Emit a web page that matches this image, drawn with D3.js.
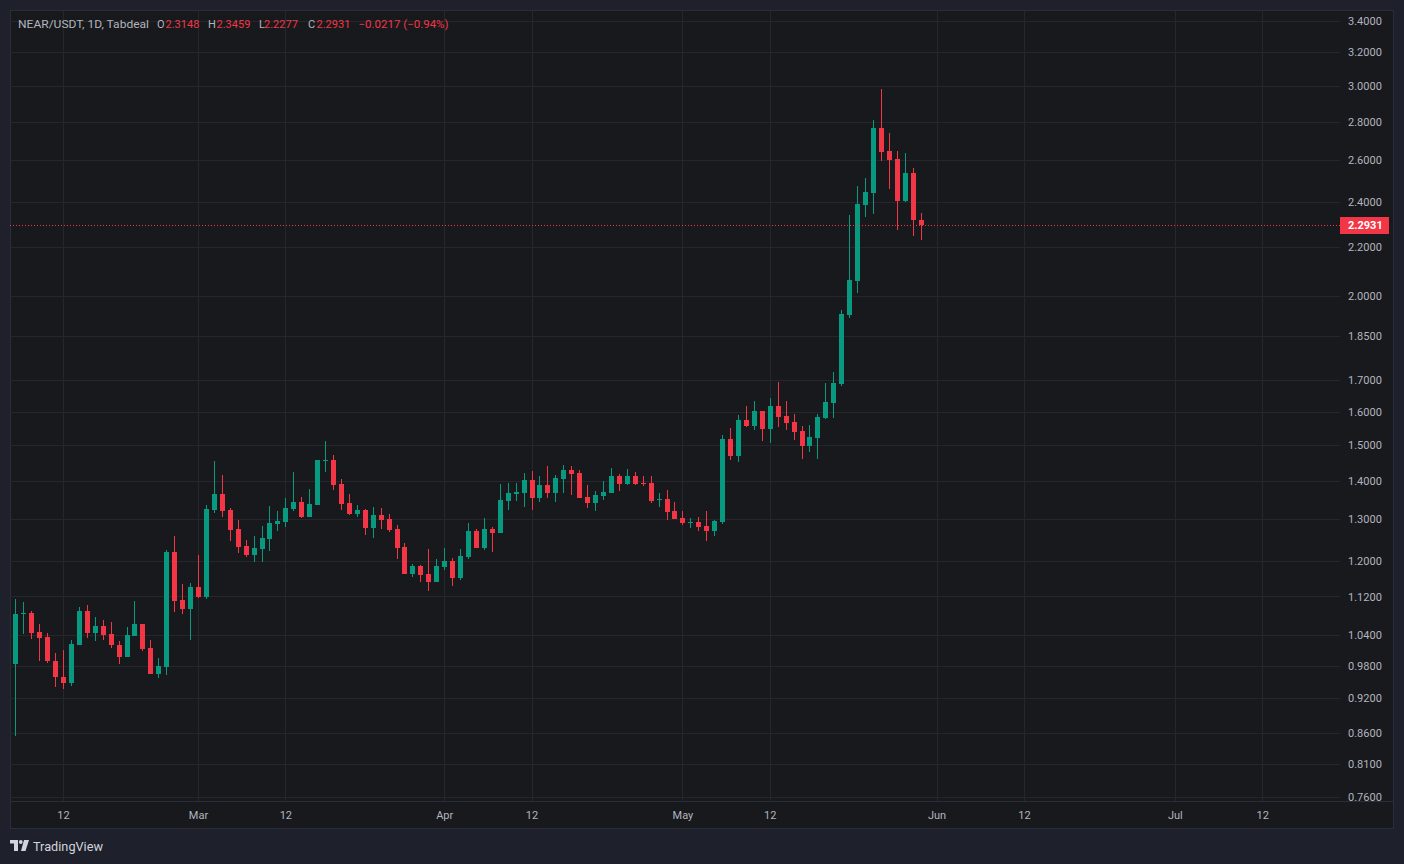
<!DOCTYPE html>
<html>
<head>
<meta charset="utf-8">
<script src="https://cdn.jsdelivr.net/npm/d3@7"></script>
<style>
  html, body { margin: 0; padding: 0; background: #1e212b; }
  svg { display: block; font-family: Roboto, "Noto Sans", sans-serif; }
</style>
</head>
<body>
<div id="chart"></div>
<script>
// Daily candles, NEAR/USDT (index 0 = first visible bar)
const opens = [0.984,1.083,1.085,1.046,1.036,0.989,0.959,0.947,1.020,1.089,1.044,1.058,1.042,1.020,0.997,1.038,1.062,1.014,0.965,0.978,
  1.220,1.112,1.094,1.141,1.119,1.323,1.365,1.323,1.276,1.235,1.213,1.227,1.251,1.288,1.293,1.326,1.344,1.306,1.336,1.456,
  1.457,1.391,1.341,1.313,1.323,1.278,1.311,1.301,1.276,1.232,1.170,1.188,1.170,1.152,1.186,1.199,1.161,1.209,1.271,1.230,
  1.276,1.266,1.347,1.366,1.368,1.402,1.354,1.389,1.368,1.405,1.430,1.421,1.357,1.341,1.360,1.368,1.413,1.391,1.413,1.394,
  1.394,1.351,1.352,1.321,1.303,1.292,1.293,1.283,1.271,1.293,1.518,1.469,1.574,1.556,1.602,1.547,1.618,1.587,1.568,1.541,
  1.497,1.521,1.581,1.627,1.688,1.928,2.059,2.384,2.440,2.766,2.646,2.605,2.403,2.536,2.3148];
const highs = [1.115,1.108,1.089,1.062,1.044,1.004,1.010,1.029,1.098,1.102,1.077,1.070,1.066,1.028,1.056,1.110,1.063,1.030,0.995,1.225,
  1.259,1.147,1.150,1.213,1.336,1.455,1.416,1.329,1.298,1.249,1.259,1.283,1.334,1.321,1.354,1.424,1.357,1.378,1.458,1.512,
  1.472,1.405,1.365,1.336,1.326,1.331,1.329,1.313,1.286,1.242,1.192,1.190,1.227,1.204,1.230,1.206,1.227,1.291,1.276,1.303,
  1.281,1.392,1.394,1.394,1.421,1.427,1.413,1.441,1.416,1.444,1.441,1.430,1.389,1.373,1.400,1.435,1.419,1.432,1.424,1.413,
  1.413,1.368,1.376,1.344,1.321,1.303,1.306,1.321,1.298,1.530,1.550,1.590,1.618,1.633,1.603,1.643,1.694,1.633,1.593,1.556,
  1.559,1.593,1.691,1.727,1.947,2.339,2.473,2.512,2.809,2.982,2.739,2.646,2.636,2.560,2.3459];
const lows = [0.855,1.042,1.032,0.988,0.985,0.941,0.936,0.943,1.019,1.034,1.028,1.030,1.015,0.984,0.996,1.037,1.009,0.964,0.957,0.963,
  1.088,1.083,1.030,1.117,1.115,1.316,1.306,1.247,1.218,1.209,1.197,1.197,1.223,1.271,1.281,1.321,1.303,1.305,1.335,1.424,
  1.376,1.323,1.311,1.306,1.261,1.254,1.276,1.268,1.204,1.169,1.163,1.152,1.132,1.151,1.179,1.143,1.156,1.204,1.230,1.225,
  1.220,1.265,1.323,1.347,1.331,1.323,1.344,1.354,1.344,1.368,1.362,1.354,1.329,1.321,1.349,1.367,1.373,1.390,1.389,1.386,
  1.341,1.331,1.298,1.300,1.286,1.278,1.271,1.247,1.259,1.288,1.457,1.452,1.553,1.544,1.512,1.506,1.553,1.544,1.515,1.460,
  1.480,1.460,1.577,1.581,1.681,1.917,2.012,2.330,2.343,2.595,2.459,2.272,2.398,2.246,2.2277];
const closes = [1.083,1.085,1.044,1.034,0.988,0.958,0.947,1.022,1.089,1.044,1.058,1.040,1.019,0.997,1.040,1.062,1.013,0.965,0.979,1.220,
  1.111,1.094,1.141,1.119,1.326,1.365,1.321,1.273,1.232,1.213,1.230,1.254,1.291,1.296,1.329,1.344,1.306,1.339,1.457,1.458,
  1.389,1.339,1.313,1.323,1.278,1.311,1.298,1.273,1.230,1.170,1.188,1.167,1.152,1.188,1.199,1.161,1.211,1.271,1.230,1.276,
  1.266,1.349,1.368,1.370,1.402,1.354,1.389,1.368,1.408,1.430,1.419,1.354,1.341,1.362,1.370,1.413,1.391,1.413,1.391,1.392,
  1.347,1.352,1.318,1.301,1.291,1.293,1.281,1.271,1.296,1.518,1.469,1.574,1.556,1.602,1.547,1.618,1.584,1.565,1.538,1.497,
  1.524,1.584,1.630,1.691,1.932,2.063,2.389,2.445,2.766,2.641,2.600,2.403,2.536,2.3148,2.2931];

// time axis ticks (bar index) and their labels
const timeTickIdx = [6, 23, 34, 54, 65, 84, 95, 116, 127, 146, 157];
const timeTickLabels = ["12", "Mar", "12", "Apr", "12", "May", "12", "Jun", "12", "Jul", "12"];

// price axis ticks
const priceTicks = [3.4, 3.2, 3.0, 2.8, 2.6, 2.4, 2.2, 2.0, 1.85, 1.7, 1.6, 1.5, 1.4, 1.3, 1.2, 1.12, 1.04, 0.98, 0.92, 0.86, 0.81, 0.76];

const lastPrice = 2.2931;

const width = 1404, height = 864;
const pane = { left: 10, top: 10, right: 1340, bottom: 801 };
const UP = "#089981", DOWN = "#f23645";
const GRID = "#25272c", TEXT = "#b2b5be";

const candles = opens.map((o, i) => ({ i, o, h: highs[i], l: lows[i], c: closes[i] }));

const svg = d3.select("#chart").append("svg")
  .attr("width", width)
  .attr("height", height);

svg.append("rect").attr("width", width).attr("height", height).attr("fill", "#1e212b");
// chart frame
svg.append("rect")
  .attr("x", 10.5).attr("y", 10.5)
  .attr("width", 1383).attr("height", 818)
  .attr("fill", "#18191d")
  .attr("stroke", "#2a2e39");

const x = d3.scaleLinear()
  .domain([-0.67, 166.8])
  .range([pane.left, pane.right]);

const y = d3.scaleLog()
  .domain([0.7548, 3.473])
  .range([pane.bottom, pane.top]);

// grid
svg.append("g")
  .attr("transform", `translate(${pane.left},0)`)
  .call(d3.axisLeft(y).tickValues(priceTicks).tickSize(-(pane.right - pane.left)).tickFormat(""))
  .call(g => g.select(".domain").remove())
  .call(g => g.selectAll("line").attr("stroke", GRID).attr("shape-rendering", "crispEdges"));

svg.append("g")
  .attr("transform", `translate(0,${pane.bottom})`)
  .call(d3.axisBottom(x).tickValues(timeTickIdx).tickSize(-(pane.bottom - pane.top)).tickFormat(""))
  .call(g => g.select(".domain").remove())
  .call(g => g.selectAll("line").attr("stroke", GRID).attr("shape-rendering", "crispEdges"));

// pane separator
svg.append("line")
  .attr("x1", pane.left).attr("x2", 1393)
  .attr("y1", pane.bottom + 0.5).attr("y2", pane.bottom + 0.5)
  .attr("stroke", "#2a2e39");

// price axis
svg.append("g")
  .attr("transform", `translate(${pane.right},0)`)
  .call(d3.axisRight(y).tickValues(priceTicks).tickSize(0).tickPadding(8).tickFormat(d => d.toFixed(4)))
  .call(g => g.select(".domain").remove())
  .call(g => g.selectAll("text")
    .attr("fill", TEXT)
    .attr("font-size", 11)
    .attr("font-family", "Roboto, sans-serif"));

// time axis
svg.append("g")
  .attr("transform", `translate(0,${pane.bottom})`)
  .call(d3.axisBottom(x).tickValues(timeTickIdx).tickSize(0).tickPadding(10)
    .tickFormat((d, i) => timeTickLabels[i]))
  .call(g => g.select(".domain").remove())
  .call(g => g.selectAll("text")
    .attr("fill", TEXT)
    .attr("font-size", 11)
    .attr("font-family", "Roboto, sans-serif"));

// candles
const bars = svg.append("g").attr("shape-rendering", "crispEdges");

bars.selectAll("rect.wick")
  .data(candles)
  .join("rect")
  .attr("class", "wick")
  .attr("x", d => Math.round(x(d.i)))
  .attr("width", 1)
  .attr("y", d => Math.round(y(d.h)))
  .attr("height", d => Math.max(1, Math.round(y(d.l)) - Math.round(y(d.h))))
  .attr("fill", d => d.c >= d.o ? UP : DOWN);

bars.selectAll("rect.body")
  .data(candles)
  .join("rect")
  .attr("class", "body")
  .attr("x", d => Math.round(x(d.i)) - 2)
  .attr("width", 5)
  .attr("y", d => Math.round(y(Math.max(d.o, d.c))))
  .attr("height", d => Math.max(1, Math.round(y(Math.min(d.o, d.c))) - Math.round(y(Math.max(d.o, d.c)))))
  .attr("fill", d => d.c >= d.o ? UP : DOWN);

// last price line and label
const yLast = Math.round(y(lastPrice)) + 0.5;
svg.append("line")
  .attr("x1", pane.left).attr("x2", pane.right)
  .attr("y1", yLast).attr("y2", yLast)
  .attr("stroke", DOWN)
  .attr("stroke-dasharray", "1,2");

svg.append("rect")
  .attr("x", pane.right).attr("y", yLast - 8.5)
  .attr("width", 49).attr("height", 17)
  .attr("fill", DOWN);

svg.append("text")
  .attr("x", pane.right + 8).attr("y", yLast)
  .attr("dy", "0.35em")
  .attr("fill", "#ffffff")
  .attr("font-size", 11)
  .attr("font-weight", "bold")
  .text(lastPrice.toFixed(4));

// legend / header
const header = svg.append("text")
  .attr("y", 28)
  .attr("font-size", 11);

const headerParts = [
  { t: "NEAR/USDT, 1D, Tabdeal", x: 18, c: TEXT, w: 131 },
  { t: "O", x: 157, c: TEXT }, { t: "2.3148", x: 165.5, c: DOWN },
  { t: "H", x: 208, c: TEXT }, { t: "2.3459", x: 216.5, c: DOWN },
  { t: "L", x: 259, c: TEXT }, { t: "2.2277", x: 264, c: DOWN },
  { t: "C", x: 308, c: TEXT }, { t: "2.2931", x: 316.5, c: DOWN },
  { t: "\u22120.0217 (\u22120.94%)", x: 358.5, c: DOWN, w: 90 }
];
header.selectAll("tspan")
  .data(headerParts)
  .join("tspan")
  .attr("x", d => d.x)
  .attr("fill", d => d.c)
  .attr("textLength", d => d.w || null)
  .attr("lengthAdjust", "spacingAndGlyphs")
  .text(d => d.t);

// TradingView mark
const logo = svg.append("g").attr("fill", "#d1d4dc");
logo.append("path").attr("d", "M10,840 H18 V851 H14 V843.5 H10 Z");
logo.append("circle").attr("cx", 20.8).attr("cy", 842).attr("r", 1.9);
logo.append("path").attr("d", "M24,840 H29 L25.5,851 H21 Z");
logo.append("text")
  .attr("x", 33).attr("y", 851)
  .attr("font-size", 13)
  .attr("textLength", 70)
  .attr("lengthAdjust", "spacingAndGlyphs")
  .text("TradingView");
</script>
</body>
</html>
